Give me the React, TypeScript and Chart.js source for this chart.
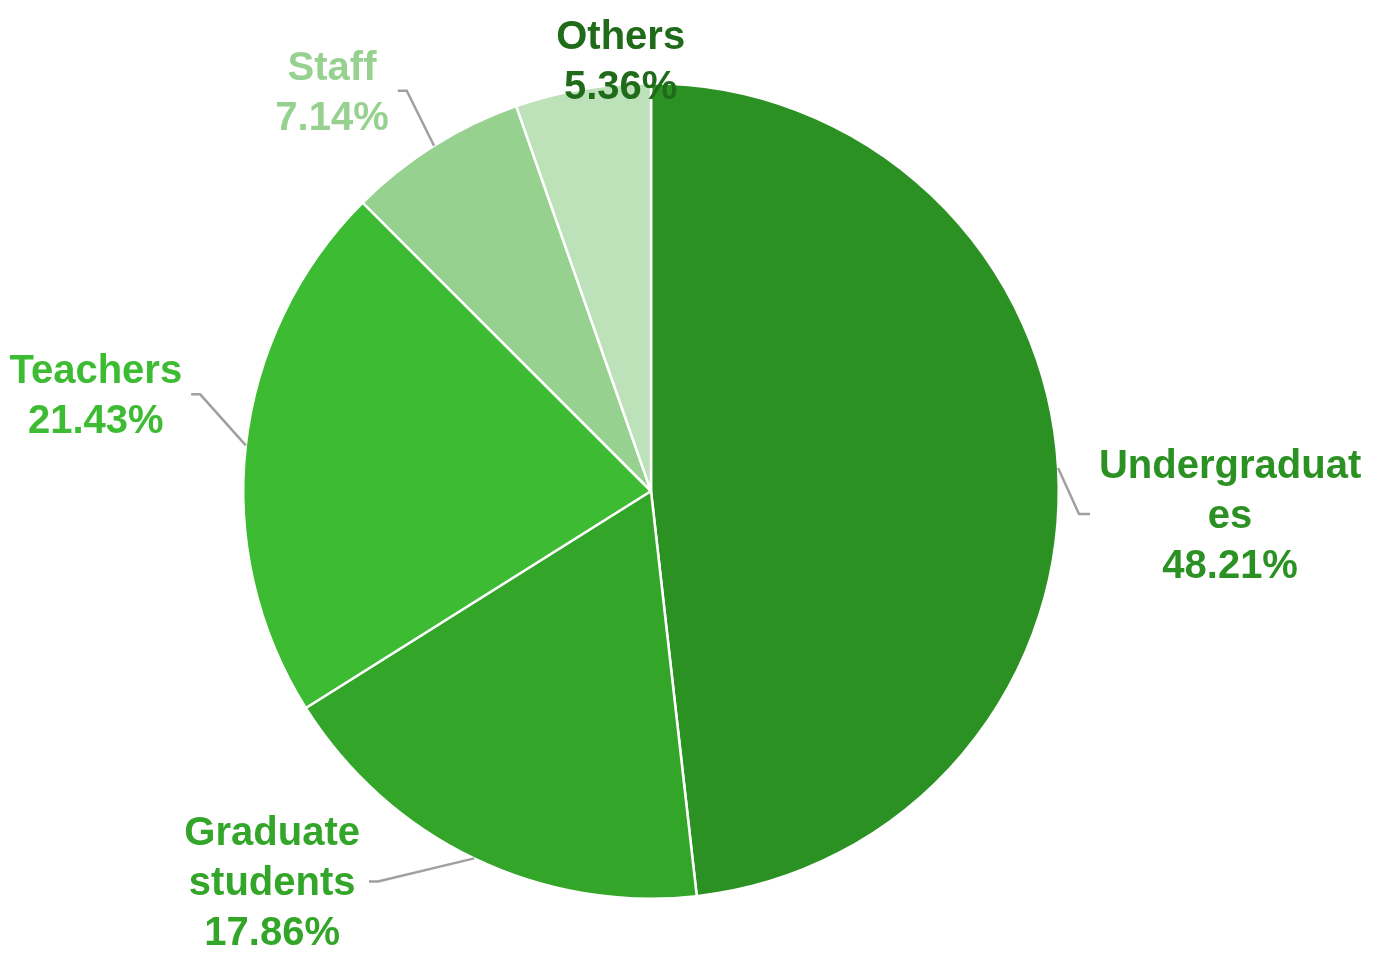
import React, { useEffect, useRef } from "react";
import { Chart, registerables } from "chart.js";

Chart.register(...registerables);

const categories = ["Undergraduates", "Graduate students", "Teachers", "Staff", "Others"];
const percentages = [48.21, 17.86, 21.43, 7.14, 5.36];
const sliceColors = ["#2b9123", "#33a62a", "#3dbb33", "#96d190", "#bde1b9"];
const labelColors = ["#2b9123", "#33a62a", "#3dbb33", "#96d190", "#1f6b19"];
// label block center offset from the slice's outer edge midpoint
const labelOffsets: [number, number][] = [
  [172, 46],
  [-202, 23],
  [-150, -51],
  [-102, -55],
  [38, -29],
];
const showLeader = [true, true, true, true, false];

const FONT_SIZE = 40;
const LINE_H = 50;
const TEXT_SHIFT = 3;
const MAX_W = 275;
const FONT = `bold ${FONT_SIZE}px "Liberation Sans", Arial, sans-serif`;

function wrap(ctx: CanvasRenderingContext2D, text: string, maxW: number): string[] {
  const words = text.split(" ");
  const lines: string[] = [];
  let cur = "";
  for (const w of words) {
    const test = cur ? cur + " " + w : w;
    if (ctx.measureText(test).width <= maxW) {
      cur = test;
    } else {
      if (cur) lines.push(cur);
      cur = "";
      let word = w;
      while (ctx.measureText(word).width > maxW) {
        let i = word.length;
        while (i > 1 && ctx.measureText(word.slice(0, i)).width > maxW) i--;
        lines.push(word.slice(0, i));
        word = word.slice(i);
      }
      cur = word;
    }
  }
  if (cur) lines.push(cur);
  return lines;
}

const labelPlugin = {
  id: "pieLabels",
  afterDraw(chart: any) {
    const ctx: CanvasRenderingContext2D = chart.ctx;
    const meta = chart.getDatasetMeta(0);
    ctx.save();
    ctx.font = FONT;
    meta.data.forEach((arc: any, i: number) => {
      const { x, y, startAngle, endAngle, outerRadius } = arc.getProps(
        ["x", "y", "startAngle", "endAngle", "outerRadius"],
        true
      );
      const mid = (startAngle + endAngle) / 2;
      const ex = x + Math.cos(mid) * outerRadius;
      const ey = y + Math.sin(mid) * outerRadius;
      const cx = ex + labelOffsets[i][0];
      const cy = ey + labelOffsets[i][1];
      const lines = [...wrap(ctx, categories[i], MAX_W), percentages[i].toFixed(2) + "%"];
      const blockW = Math.max(...lines.map((l) => ctx.measureText(l).width));
      const blockH = lines.length * LINE_H;
      if (showLeader[i]) {
        const right = cx > ex;
        const edgeX = right ? cx - blockW / 2 - 9 : cx + blockW / 2 + 9;
        const elbowX = right ? edgeX - 11 : edgeX + 9;
        ctx.strokeStyle = "#a0a0a0";
        ctx.lineWidth = 2.5;
        ctx.beginPath();
        ctx.moveTo(edgeX, cy);
        ctx.lineTo(elbowX, cy);
        ctx.lineTo(ex, ey);
        ctx.stroke();
      }
      ctx.fillStyle = labelColors[i];
      ctx.textAlign = "center";
      ctx.textBaseline = "middle";
      lines.forEach((l, k) => {
        ctx.fillText(l, cx, cy - blockH / 2 + LINE_H / 2 + k * LINE_H + TEXT_SHIFT);
      });
    });
    ctx.restore();
  },
};

export default function App() {
  const ref = useRef<HTMLCanvasElement>(null);
  useEffect(() => {
    if (!ref.current) return;
    const chart = new Chart(ref.current, {
      type: "pie",
      data: {
        labels: categories,
        datasets: [
          {
            data: percentages,
            backgroundColor: sliceColors,
            borderColor: "#ffffff",
            borderWidth: 2.5,
          },
        ],
      },
      options: {
        animation: false,
        responsive: false,
        devicePixelRatio: 1,
        layout: { padding: { left: 242, right: 316, top: 82, bottom: 68 } },
        plugins: {
          legend: { display: false },
          tooltip: { enabled: false },
        },
      },
      plugins: [labelPlugin],
    });
    return () => chart.destroy();
  }, []);
  return (
    <div style={{ position: "fixed", left: 0, top: 0, width: 1376, height: 968, background: "#fff" }}>
      <canvas ref={ref} width={1376} height={968} />
    </div>
  );
}
